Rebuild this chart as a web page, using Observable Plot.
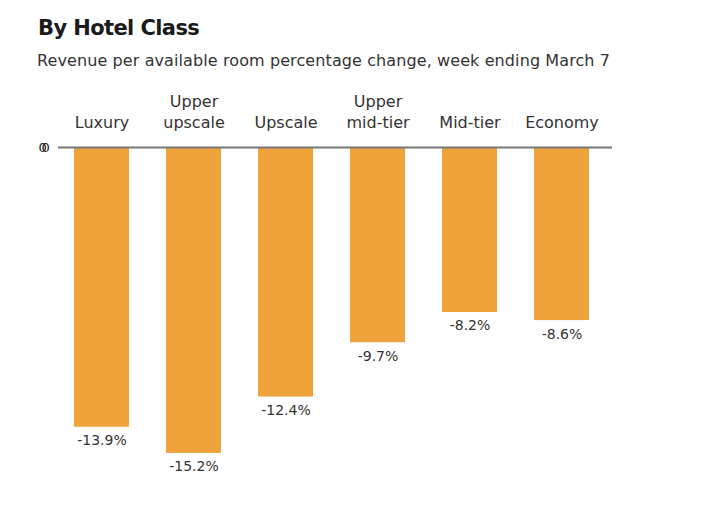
<!DOCTYPE html>
<html>
<head>
<meta charset="utf-8">
<script src="https://cdn.jsdelivr.net/npm/d3@7"></script>
<script src="https://cdn.jsdelivr.net/npm/@observablehq/plot@0.6"></script>
<style>
  body { margin: 0; background: #fff; font-family: "DejaVu Sans", sans-serif; color: #222; }
  #head { position: relative; height: 85px; width: 708px; }
  #title { position: absolute; left: 38px; top: 16px; font-size: 21px; font-weight: 700; color: #1a1a1a; letter-spacing: -0.6px; }
  #sub { position: absolute; left: 37px; top: 51px; font-size: 16px; color: #333; letter-spacing: 0.1px; }
  svg { display: block; }
</style>
</head>
<body>
<div id="head">
  <div id="title">By Hotel Class</div>
  <div id="sub">Revenue per available room percentage change, week ending March 7</div>
</div>
<div id="chart"></div>
<script>
const categories = ["Luxury", "Upper\nupscale", "Upscale", "Upper\nmid-tier", "Mid-tier", "Economy"];
const values = [-13.9, -15.2, -12.4, -9.7, -8.2, -8.6];
const labels = ["-13.9%", "-15.2%", "-12.4%", "-9.7%", "-8.2%", "-8.6%"];

const data = categories.map((c, i) => ({cat: c, value: values[i], label: labels[i]}));

const chart = Plot.plot({
  width: 708,
  height: 414,
  marginTop: 62,
  marginBottom: 30,
  marginLeft: 58,
  marginRight: 96,
  style: {fontFamily: "DejaVu Sans, sans-serif", fontSize: "15px", color: "#333", background: "#fff"},
  x: {domain: categories, range: [54, 609], paddingInner: 0.4, paddingOuter: 0.2, axis: null},
  y: {domain: [-16, 0], axis: null},
  marks: [
    Plot.barY(data, {x: "cat", y: "value", fill: "#F0A33B", insetTop: 1}),
    Plot.ruleY([0], {stroke: "#777", strokeWidth: 2}),
    Plot.text(data, {x: "cat", y: () => 0, text: "cat", lineAnchor: "bottom", lineHeight: 1.3, dy: -20, fontSize: 16, fill: "#333"}),
    Plot.text(data, {x: "cat", y: "value", text: "label", lineAnchor: "top", dy: 8, fontSize: 14, fill: "#333", letterSpacing: "-0.8px"}),
    Plot.text([0], {y: d => d, frameAnchor: "left", dx: -20, text: () => "0", fontSize: 13, fill: "#222"}),
    Plot.text([0], {y: d => d, frameAnchor: "left", dx: -17, text: () => "0", fontSize: 13, fill: "#222"})
  ]
});
document.getElementById("chart").appendChild(chart);
</script>
</body>
</html>
